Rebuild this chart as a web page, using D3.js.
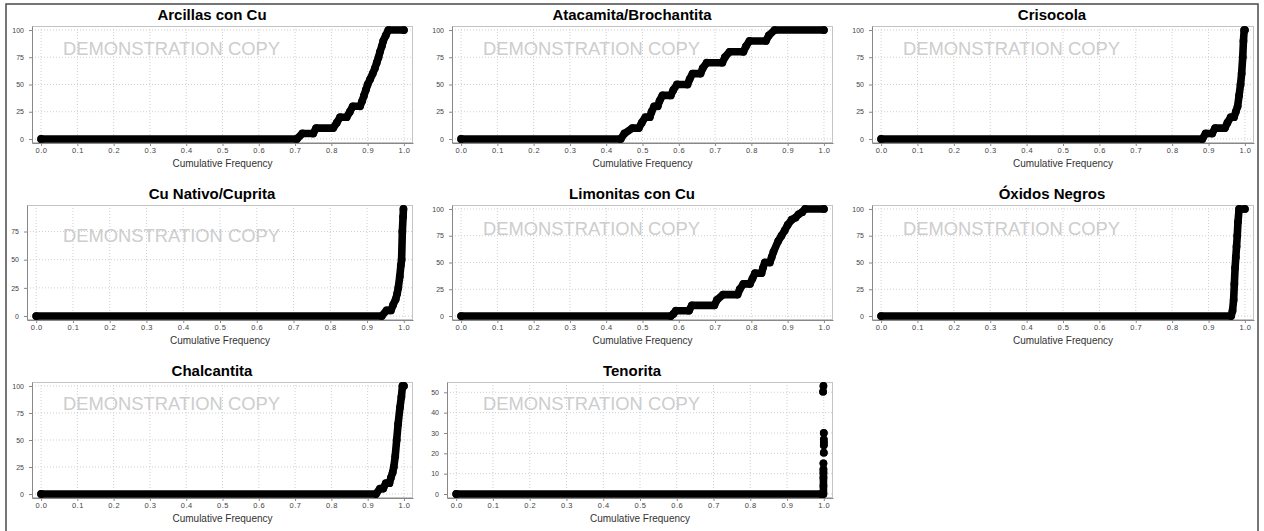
<!DOCTYPE html>
<html lang="es">
<head>
<meta charset="utf-8">
<title>Cumulative Frequency</title>
<script src="https://cdn.jsdelivr.net/npm/d3@7"></script>
<style>
  body { margin: 0; background: #fff; }
  svg { display: block; font-family: "Liberation Sans", Arial, sans-serif; }
  .grid line { stroke: #cfcfcf; stroke-width: 1; stroke-dasharray: 1,2; }
  .frame { fill: none; stroke: #c4c4c4; }
  .axis path, .axis line { stroke: #888; }
  .tick text { fill: #444; }
  .title { font-weight: bold; font-size: 15px; fill: #000; }
  .xlabel { font-size: 10px; fill: #333; }
  .wm { font-size: 18.5px; fill: #cdcdcd; }
</style>
</head>
<body>
<svg id="chart" width="1264" height="531"></svg>
<script>
// panel titles, in reading order
const titles = ["Arcillas con Cu", "Atacamita/Brochantita", "Crisocola",
  "Cu Nativo/Cuprita", "Limonitas con Cu", "Óxidos Negros",
  "Chalcantita", "Tenorita"];

// [cumulative frequency, value]; null = gap between isolated points
const arcillas = [[0,0],[0.705,0],[0.72,5],[0.75,5],[0.758,10],[0.805,10],[0.815,15],[0.824,20],[0.842,20],[0.851,25],[0.859,30],[0.879,30],[0.885,35],[0.89,40],[0.895,45],[0.9,50],[0.907,55],[0.914,60],[0.92,65],[0.925,70],[0.93,75],[0.934,80],[0.939,85],[0.943,90],[0.95,95],[0.957,100],[1,100]];
const atacamita = [[0,0],[0.44,0],[0.45,5],[0.472,10],[0.49,10],[0.498,15],[0.508,20],[0.52,20],[0.525,25],[0.532,30],[0.542,30],[0.547,35],[0.555,40],[0.578,40],[0.585,45],[0.595,50],[0.624,50],[0.63,55],[0.638,60],[0.66,60],[0.666,65],[0.677,70],[0.72,70],[0.727,75],[0.74,80],[0.778,80],[0.785,85],[0.795,90],[0.84,90],[0.848,95],[0.864,100],[1,100]];
const crisocola = [[0,0],[0.883,0],[0.892,5],[0.91,5],[0.918,10],[0.945,10],[0.952,15],[0.961,20],[0.97,20],[0.975,25],[0.98,30],[0.984,40],[0.988,50],[0.991,60],[0.994,75],[0.996,90],[0.998,100],[1,100]];
const cuNativo = [[0,0],[0.94,0],[0.953,5],[0.965,5],[0.971,10],[0.978,15],[0.982,20],[0.985,25],[0.989,35],[0.992,45],[0.994,50],[0.996,75],[0.998,88],[0.999,95]];
const limonitas = [[0,0],[0.578,0],[0.585,2],[0.592,5],[0.628,5],[0.636,10],[0.698,10],[0.705,15],[0.722,20],[0.762,20],[0.768,25],[0.778,30],[0.796,30],[0.803,35],[0.81,40],[0.828,40],[0.832,45],[0.837,50],[0.851,50],[0.856,55],[0.861,60],[0.874,70],[0.883,75],[0.892,80],[0.9,85],[0.911,90],[0.922,92],[0.93,95],[0.94,97],[0.948,100],[1,100]];
const oxidos = [[0,0],[0.962,0],[0.966,5],[0.969,15],[0.971,30],[0.973,45],[0.975,55],[0.977,65],[0.979,75],[0.981,88],[0.984,100],[1,100]];
const chalcantita = [[0,0],[0.923,0],[0.934,5],[0.943,5],[0.95,10],[0.96,10],[0.964,15],[0.969,20],[0.972,25],[0.976,35],[0.98,50],[0.984,65],[0.989,80],[0.993,90],[0.996,100],[1,100]];
const tenorita = [[0,0],[0.993,0],[0.999,0],[0.999,4],[0.999,8],[0.999,10.5],[0.999,12.2], null, [0.999,15.1], null, [1,20.3], null, [1,24],[1,25.2],[1,26.8], null, [1,30], null, [0.998,50.3], null, [0.999,53.1]];

const series = [arcillas, atacamita, crisocola, cuNativo, limonitas, oxidos, chalcantita, tenorita];

// y tick labels per panel
const yTicks0to100 = [0, 25, 50, 75, 100];
const yTicksCuNativo = [0, 25, 50, 75];
const yTicksTenorita = [0, 10, 20, 30, 40, 50];
const yTickSets = [yTicks0to100, yTicks0to100, yTicks0to100, yTicksCuNativo,
  yTicks0to100, yTicks0to100, yTicks0to100, yTicksTenorita];
const xTicks = [0, 0.1, 0.2, 0.3, 0.4, 0.5, 0.6, 0.7, 0.8, 0.9, 1.0];

const COL_X = [0, 420, 840];
const ROWS = [{ top: 26, bottom: 143 }, { top: 205, bottom: 320 }, { top: 382, bottom: 498 }];
const PLOT_RIGHT = 413;
const WM_DY = [29, 29, 29, 37, 30, 30, 28, 28];

const svg = d3.select("#chart");

// outer frame of the picture
svg.append("rect")
  .attr("x", 6).attr("y", 4)
  .attr("width", 1252).attr("height", 600)
  .attr("fill", "none").attr("stroke", "#4a4a4a").attr("stroke-width", 1.5);

const line = d3.line().defined(d => d !== null);

series.forEach((data, i) => {
  const col = i % 3, row = ROWS[Math.floor(i / 3)];
  const ticks = yTickSets[i];
  const maxChars = d3.max(ticks, t => String(t).length);
  const left = COL_X[col] + 17 + 5 * maxChars;
  const right = COL_X[col] + PLOT_RIGHT + (col === 2 ? 1 : 0);

  const pts = data.filter(d => d !== null);
  const yMax = d3.max(pts, d => d[1]);
  const pad = yMax * 0.037;

  const x = d3.scaleLinear().domain([-0.025, 1.025]).range([left, right]);
  const y = d3.scaleLinear().domain([-pad, yMax + pad]).range([row.bottom, row.top]);
  line.x(d => x(d[0])).y(d => y(d[1]));

  const g = svg.append("g");

  g.append("rect").attr("x", left).attr("y", row.top)
    .attr("width", right - left).attr("height", row.bottom - row.top)
    .attr("fill", "#fff");

  const grid = g.append("g").attr("class", "grid");
  grid.selectAll("line.v").data(xTicks).join("line").attr("class", "v")
    .attr("x1", d => x(d)).attr("x2", d => x(d))
    .attr("y1", row.top).attr("y2", row.bottom);
  grid.selectAll("line.h").data(ticks).join("line").attr("class", "h")
    .attr("x1", left).attr("x2", right)
    .attr("y1", d => y(d)).attr("y2", d => y(d));

  g.append("rect").attr("class", "frame")
    .attr("x", left + 0.5).attr("y", row.top + 0.5)
    .attr("width", right - left - 1).attr("height", row.bottom - row.top - 1);

  g.append("text").attr("class", "wm")
    .attr("x", COL_X[col] + 63).attr("y", row.top + WM_DY[i])
    .attr("textLength", 217).attr("lengthAdjust", "spacingAndGlyphs")
    .text("DEMONSTRATION COPY");

  const xAxis = g.append("g").attr("class", "axis")
    .attr("transform", `translate(0,${row.bottom})`)
    .call(d3.axisBottom(x).tickValues(xTicks).tickFormat(d3.format(".1f")).tickSizeInner(3).tickSizeOuter(0).tickPadding(2));
  xAxis.selectAll("text").style("font-size", "7.5px").style("letter-spacing", "0.5px").attr("dy", "0.71em");

  const yAxis = g.append("g").attr("class", "axis")
    .attr("transform", `translate(${left},0)`)
    .call(d3.axisLeft(y).tickValues(ticks).tickFormat(d3.format("d")).tickSizeInner(3).tickSizeOuter(0).tickPadding(5));
  yAxis.selectAll("text").style("font-size", "7px");

  g.append("text").attr("class", "title")
    .attr("x", COL_X[col] + 212).attr("y", row.top - 6)
    .attr("text-anchor", "middle").text(titles[i]);

  g.append("text").attr("class", "xlabel")
    .attr("x", (left + right) / 2).attr("y", row.bottom + 24)
    .attr("text-anchor", "middle").text("Cumulative Frequency");

  g.append("path").datum(data)
    .attr("d", line)
    .attr("fill", "none").attr("stroke", "#000")
    .attr("stroke-width", 7.6).attr("stroke-linejoin", "round").attr("stroke-linecap", "round");

  g.selectAll("circle").data(pts).join("circle")
    .attr("cx", d => x(d[0])).attr("cy", d => y(d[1]))
    .attr("r", 3.9).attr("fill", "#000");
});
</script>
</body>
</html>
